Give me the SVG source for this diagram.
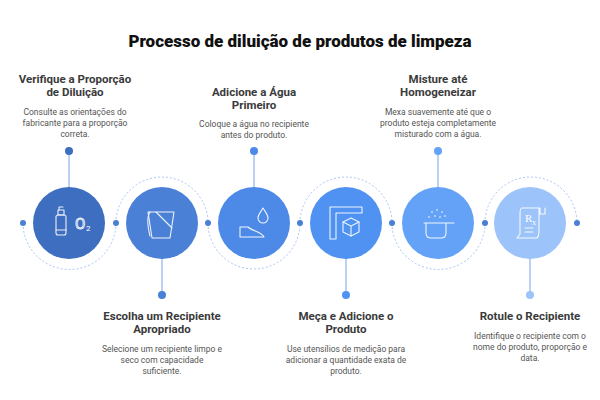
<svg xmlns="http://www.w3.org/2000/svg" width="600" height="400" viewBox="0 0 600 400">
<style>
.t{font-family:Roboto,"Liberation Sans",sans-serif;font-size:11.5px;font-weight:bold;fill:#3a3a3a;text-anchor:middle}
.d{font-family:Roboto,"Liberation Sans",sans-serif;font-size:8.5px;fill:#555;text-anchor:middle}
.arc{fill:none;stroke:#a9c6f2;stroke-width:1;stroke-dasharray:2 2}
.ln{stroke:#8db4ef;stroke-width:1.2}
.ic{fill:none;stroke:#fff;stroke-width:1.1;stroke-linecap:round;stroke-linejoin:round;opacity:.9}
</style>
<rect width="600" height="400" fill="#fff"/>
<text x="300" y="47" font-family="Roboto,'Liberation Sans',sans-serif" font-size="17" font-weight="900" text-anchor="middle" fill="#111">Processo de diluição de produtos de limpeza</text>
<g id="connectors">
<path class="arc" d="M23 223 A46 46 0 0 0 116 223"/>
<path class="arc" d="M116 223 A46 46 0 0 1 208 223"/>
<path class="arc" d="M208 223 A46 46 0 0 0 300 223"/>
<path class="arc" d="M300 223 A46 46 0 0 1 392 223"/>
<path class="arc" d="M392 223 A46 46 0 0 0 485 223"/>
<path class="arc" d="M485 223 A46 46 0 0 1 577 223"/>
<line class="ln" x1="69" y1="151" x2="69" y2="188"/>
<line class="ln" x1="254" y1="151" x2="254" y2="188"/>
<line class="ln" x1="438" y1="151" x2="438" y2="188"/>
<line class="ln" x1="162" y1="258" x2="162" y2="295"/>
<line class="ln" x1="346" y1="258" x2="346" y2="295"/>
<line class="ln" x1="530" y1="258" x2="530" y2="295"/>
<g fill="#4a80d6">
<circle cx="23" cy="223" r="3"/><circle cx="116" cy="223" r="3"/><circle cx="208" cy="223" r="3"/><circle cx="300" cy="223" r="3"/><circle cx="392" cy="223" r="3"/><circle cx="485" cy="223" r="3"/><circle cx="577" cy="223" r="3"/>
</g>
</g>
<g id="n1">
<circle cx="69" cy="223" r="36" fill="#3d6ec0"/>
<circle cx="69" cy="151" r="4" fill="#3d6ec0"/>
<g class="ic"><rect x="56" y="215" width="10" height="20" rx="2"/><rect x="58" y="210" width="6" height="5"/><path d="M59 210v-3h4"/><line x1="56" y1="230" x2="66" y2="230"/></g>
<text x="75" y="229" font-family="Roboto,'Liberation Sans',sans-serif" font-size="15" fill="none" stroke="#fff" stroke-width=".8">O</text><text x="86" y="231" font-family="Roboto,'Liberation Sans',sans-serif" font-size="8" fill="#fff">2</text>
<text class="t" x="75" y="83">Verifique a Proporção</text><text class="t" x="75" y="96">de Diluição</text>
<text class="d" x="75" y="115">Consulte as orientações do</text><text class="d" x="75" y="126">fabricante para a proporção</text><text class="d" x="75" y="137">correta.</text>
</g>
<g id="n2">
<circle cx="162" cy="223" r="36" fill="#4a80d6"/>
<circle cx="162" cy="295" r="4" fill="#4a80d6"/>
<g class="ic"><path d="M148 212h26l-4 26h-18z"/><path d="M150 212c-4 6-2 16 0 24M156 212l16 16"/></g>
<text class="t" x="162" y="320">Escolha um Recipiente</text><text class="t" x="162" y="333">Apropriado</text>
<text class="d" x="162" y="352">Selecione um recipiente limpo e</text><text class="d" x="162" y="363">seco com capacidade</text><text class="d" x="162" y="374">suficiente.</text>
</g>
<g id="n3">
<circle cx="254" cy="223" r="36" fill="#4d8ae8"/>
<circle cx="254" cy="151" r="4" fill="#4d8ae8"/>
<g class="ic"><path d="M263 208c-3 5-5 7-5 10a5 5 0 0 0 10 0c0-3-2-5-5-10z"/><path d="M240 237v-10h8c4 4 14 5 16 10z"/></g>
<text class="t" x="254" y="96">Adicione a Água</text><text class="t" x="254" y="109">Primeiro</text>
<text class="d" x="254" y="127">Coloque a água no recipiente</text><text class="d" x="254" y="138">antes do produto.</text>
</g>
<g id="n4">
<circle cx="346" cy="223" r="36" fill="#4f92f2"/>
<circle cx="346" cy="295" r="4" fill="#4f92f2"/>
<g class="ic"><path d="M330 207h32v6h-26v26h-6z"/><path d="M343 222l8-4 8 4v10l-8 4-8-4z"/><path d="M343 222l8 4 8-4M351 226v10"/></g>
<text class="t" x="346" y="320">Meça e Adicione o</text><text class="t" x="346" y="333">Produto</text>
<text class="d" x="346" y="352">Use utensílios de medição para</text><text class="d" x="346" y="363">adicionar a quantidade exata de</text><text class="d" x="346" y="374">produto.</text>
</g>
<g id="n5">
<circle cx="438" cy="223" r="36" fill="#64a2f7"/>
<circle cx="438" cy="151" r="4" fill="#64a2f7"/>
<g class="ic"><path d="M424 223h30M426 223v10c0 3 2 5 5 5h10c3 0 5-2 5-5v-10"/></g>
<g fill="#fff"><circle cx="432" cy="212" r=".8"/><circle cx="437" cy="210" r=".8"/><circle cx="442" cy="212" r=".8"/><circle cx="429" cy="217" r=".8"/><circle cx="435" cy="216" r=".8"/><circle cx="440" cy="217" r=".8"/><circle cx="445" cy="216" r=".8"/></g>
<text class="t" x="438" y="83">Misture até</text><text class="t" x="438" y="96">Homogeneizar</text>
<text class="d" x="438" y="115">Mexa suavemente até que o</text><text class="d" x="438" y="126">produto esteja completamente</text><text class="d" x="438" y="137">misturado com a água.</text>
</g>
<g id="n6">
<circle cx="530" cy="223" r="36" fill="#9cc3fa"/>
<circle cx="530" cy="295" r="4" fill="#9cc3fa"/>
<g class="ic"><path d="M522 208h18v6h5v-6M522 208c-2 0-2 3-2 6v20l-3 4h20c2-2 2-4 2-6v-24"/><path d="M525 228h8M525 232h8"/></g>
<text x="525" y="222" font-family="'Liberation Serif',serif" font-size="11" fill="#fff">R</text><text x="532" y="225" font-family="'Liberation Serif',serif" font-size="8" fill="#fff">x</text>
<text class="t" x="530" y="320">Rotule o Recipiente</text>
<text class="d" x="530" y="339">Identifique o recipiente com o</text><text class="d" x="530" y="350">nome do produto, proporção e</text><text class="d" x="530" y="361">data.</text>
</g>
</svg>
